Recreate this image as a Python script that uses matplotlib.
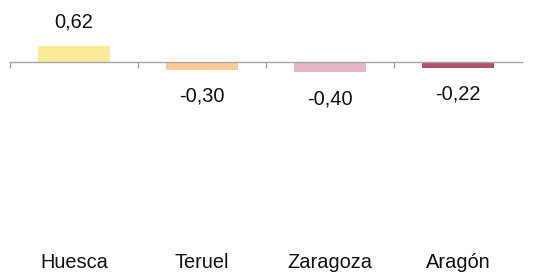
import matplotlib
matplotlib.use("Agg")
import matplotlib.pyplot as plt
import matplotlib.transforms as mtransforms

regions = ["Huesca", "Teruel", "Zaragoza", "Aragón"]
values = [0.62, -0.30, -0.40, -0.22]
value_labels = ["0,62", "-0,30", "-0,40", "-0,22"]
colors = ["#FCEA98", "#FFCC99", "#E5B8C3", "#B5506A"]

plt.rcParams["font.family"] = ["Liberation Sans", "DejaVu Sans"]

fig = plt.figure(figsize=(5.49, 2.73), dpi=100)
ax = fig.add_axes([10 / 549, 0, 512 / 549, 1])

x = list(range(len(regions)))
ax.bar(x, values, width=0.555, color=colors, zorder=2)
ax.set_xlim(-0.5, 3.5)
ax.set_ylim(-(273 - 62) / 25.8, 62 / 25.8)

for s in ["top", "right", "left"]:
    ax.spines[s].set_visible(False)
ax.spines["bottom"].set_position(("data", 0))
ax.spines["bottom"].set_color("#a6a6a6")
ax.spines["bottom"].set_linewidth(1)
ax.set_yticks([])
ax.set_xticks([-0.5, 0.5, 1.5, 2.5])
ax.set_xticklabels([])
ax.tick_params(axis="x", direction="out", length=4, width=1, color="#a6a6a6")

for xi, v, lab in zip(x, values, value_labels):
    off = 17 if v > 0 else -19
    ax.annotate(lab, (xi, v), xytext=(0, off), textcoords="offset points",
                ha="center", va="center", fontsize=14.4, color="#111111")

trans = mtransforms.blended_transform_factory(ax.transData, ax.transAxes)
for xi, name in zip(x, regions):
    ax.text(xi, 11 / 273, name, transform=trans, ha="center", va="center",
            fontsize=14.4, color="#111111")

fig.savefig("out.png", dpi=100)
